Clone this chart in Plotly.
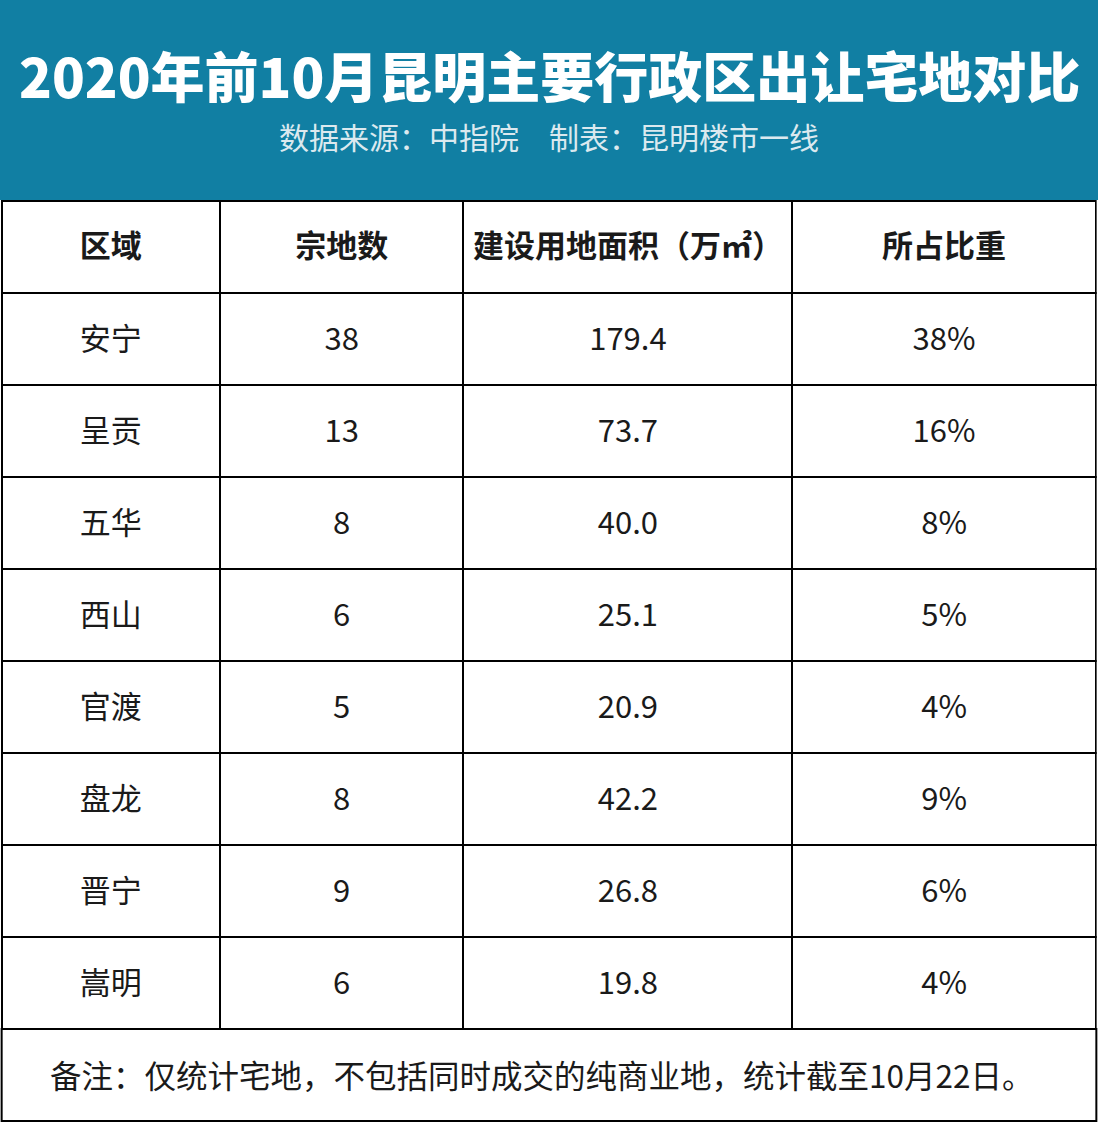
import plotly.graph_objects as go

# table data
columns = ["区域", "宗地数", "建设用地面积（万㎡）", "所占比重"]
districts = ["安宁", "呈贡", "五华", "西山", "官渡", "盘龙", "晋宁", "嵩明"]
parcels = [38, 13, 8, 6, 5, 8, 9, 6]
area = [179.4, 73.7, 40.0, 25.1, 20.9, 42.2, 26.8, 19.8]
share = ["38%", "16%", "8%", "5%", "4%", "9%", "6%", "4%"]

title = "2020年前10月昆明主要行政区出让宅地对比"
subtitle = "数据来源：中指院　制表：昆明楼市一线"
note = "备注：仅统计宅地，不包括同时成交的纯商业地，统计截至10月22日。"

W, H = 1098, 1124
TEAL = "#117FA3"
FONT = "Noto Sans CJK SC"
TXT = "#1a1a1a"
ROW_H = 92
TABLE_TOP = 201
HEAD_SHIFT = 12
BODY_SHIFT = 10
col_widths = [219, 244, 330, 304]
X_DOM = [0.0015, 0.9985]

cell_values = [districts, [str(v) for v in parcels], [f"{v:.1f}" for v in area], share]
clear = "rgba(0,0,0,0)"


def py(px):
    return 1 - px / H


fig = go.Figure()

# borders only
fig.add_trace(
    go.Table(
        domain={"x": X_DOM, "y": [0, py(TABLE_TOP)]},
        columnwidth=col_widths,
        header={
            "values": ["" for _ in columns],
            "height": ROW_H,
            "fill": {"color": "white"},
            "line": {"color": "black", "width": 2},
        },
        cells={
            "values": [["" for _ in districts] for _ in columns],
            "height": ROW_H,
            "fill": {"color": "white"},
            "line": {"color": "black", "width": 2},
        },
    )
)

# header text, shifted down to sit in the middle of the cell
fig.add_trace(
    go.Table(
        domain={"x": X_DOM, "y": [py(TABLE_TOP + HEAD_SHIFT + ROW_H + 4), py(TABLE_TOP + HEAD_SHIFT)]},
        columnwidth=col_widths,
        header={
            "values": [f"<b>{c}</b>" for c in columns],
            "height": ROW_H,
            "align": "center",
            "fill": {"color": clear},
            "line": {"color": clear, "width": 0},
            "font": {"family": FONT, "size": 31, "color": TXT},
        },
        cells={"values": [], "fill": {"color": clear}, "line": {"color": clear, "width": 0}},
    )
)

# body text
fig.add_trace(
    go.Table(
        domain={"x": X_DOM, "y": [0, py(TABLE_TOP + ROW_H + BODY_SHIFT)]},
        columnwidth=col_widths,
        header={"values": [], "fill": {"color": clear}, "line": {"color": clear, "width": 0}},
        cells={
            "values": cell_values,
            "height": ROW_H,
            "align": "center",
            "fill": {"color": clear},
            "line": {"color": clear, "width": 0},
            "font": {"family": FONT, "size": 31, "color": TXT},
        },
    )
)

foot_top = TABLE_TOP + ROW_H * 9
fig.update_layout(
    width=W,
    height=H,
    margin={"l": 0, "r": 0, "t": 0, "b": 0},
    paper_bgcolor="white",
    plot_bgcolor="white",
    shapes=[
        {
            "type": "rect", "xref": "paper", "yref": "paper",
            "x0": 0, "x1": 1, "y0": py(200), "y1": 1,
            "fillcolor": TEAL, "line": {"width": 0}, "layer": "below",
        },
        {
            "type": "rect", "xref": "paper", "yref": "paper",
            "x0": X_DOM[0], "x1": X_DOM[1], "y0": py(H - 3), "y1": py(foot_top),
            "fillcolor": clear, "line": {"color": "black", "width": 2},
        },
    ],
    annotations=[
        {
            "text": title, "xref": "paper", "yref": "paper",
            "x": 0.5, "y": py(75), "xanchor": "center", "yanchor": "middle",
            "showarrow": False,
            "font": {"family": FONT, "size": 54, "color": "white", "weight": 900},
        },
        {
            "text": subtitle, "xref": "paper", "yref": "paper",
            "x": 0.5, "y": py(136), "xanchor": "center", "yanchor": "middle",
            "showarrow": False,
            "font": {"family": FONT, "size": 30, "color": "#dbe9ef"},
        },
        {
            "text": note, "xref": "paper", "yref": "paper",
            "x": 48 / W, "y": py(1074), "xanchor": "left", "yanchor": "middle",
            "showarrow": False,
            "font": {"family": FONT, "size": 31.5, "color": TXT},
        },
    ],
)

fig.write_html(
    "out.html",
    config={"displayModeBar": False},
    post_script="document.body.style.margin='0';document.documentElement.style.overflow='hidden';",
)
